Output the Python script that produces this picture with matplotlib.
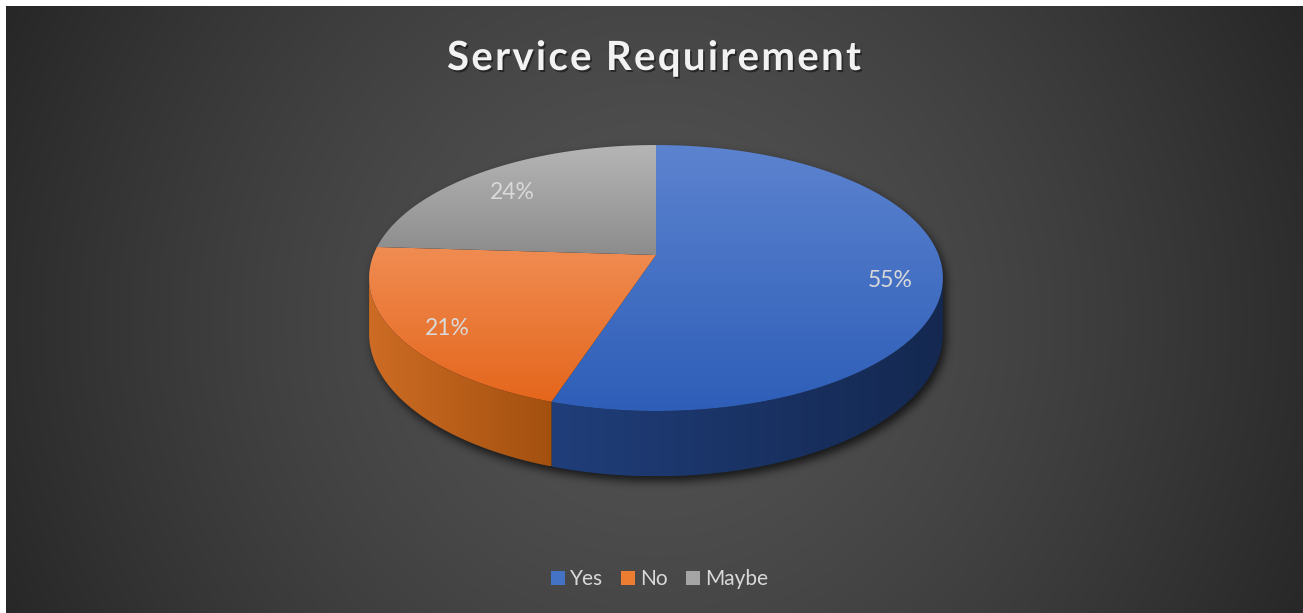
import numpy as np
import matplotlib
matplotlib.use("Agg")
import matplotlib.pyplot as plt
import matplotlib.patheffects as pe
from matplotlib.patches import Polygon, Patch
from matplotlib.path import Path
from matplotlib.colors import to_rgb
from matplotlib.font_manager import FontProperties, findfont, get_font

# data
labels = ["Yes", "No", "Maybe"]
shares = [55, 21, 24]
title = "Service Requirement"

# styles
top_colors = [("#5c83cf", "#2e5eb8"), ("#f08c52", "#e4661c"), ("#b5b5b5", "#8c8c8c")]
side_colors = [("#203e7a", "#142850"), ("#cd6c24", "#a3500f"), ("#7a7a7a", "#5a5a5a")]
legend_colors = ["#4472c4", "#ed7d31", "#a5a5a5"]
text_color = "#d9d9d9"

W, HT = 1303, 613
fig = plt.figure(figsize=(W / 100, HT / 100), dpi=100, facecolor="white")
ax = fig.add_axes([0, 0, 1, 1])
ax.axis("off")

# background radial gradient
yy, xx = np.mgrid[6:HT, 6:W] + 0.5
d = np.clip(np.hypot(xx - 655, yy - 320) / 729, 0, 1)
v = (83 - 45 * d ** 1.43) / 255
ax.imshow(np.dstack([v, v, v]), extent=(6, W, HT, 6), aspect="auto", zorder=0)

# 3d pie geometry
CX, CY = 656, 255
RX, RY = 282.6, 129
PERSP = 0.173
DEPTH = 54


def proj(phi, rho=1.0, depth=0.0):
    s, c = np.sin(phi), np.cos(phi)
    den = 1 + PERSP * rho * s
    return CX + RX * rho * c / den, CY - RY * rho * s / den + DEPTH * depth / den


def grad_fill(verts, c0, c1, vertical=True, z=2):
    poly = Polygon(verts, closed=True, facecolor="none", edgecolor="none", zorder=z)
    ax.add_patch(poly)
    x0, y0 = verts.min(0)
    x1, y1 = verts.max(0)
    t = np.linspace(0, 1, 256)
    a, b = np.array(to_rgb(c0)), np.array(to_rgb(c1))
    g = a[None, :] * (1 - t[:, None]) + b[None, :] * t[:, None]
    img = g[:, None, :] if vertical else g[None, :, :]
    im = ax.imshow(img, extent=(x0, x1, y1, y0), aspect="auto",
                   interpolation="bilinear", zorder=z)
    im.set_clip_path(poly)


fracs = np.array(shares) / sum(shares)
starts = np.radians(90 - 360 * np.concatenate([[0], np.cumsum(fracs)[:-1]]))
ends = starts - np.radians(360 * fracs)
edge = np.arcsin(PERSP)
vis_lo, vis_hi = -np.pi + edge, -edge

# drop shadow
up = np.linspace(-edge, np.pi + edge, 300)
low = np.linspace(np.pi + edge, 2 * np.pi - edge, 300)
sx1, sy1 = proj(up)
sx2, sy2 = proj(low, depth=1)
sil = Path(np.column_stack([np.r_[sx1, sx2], np.r_[sy1, sy2]]))
bx0, bx1, by0, by1 = 320, 1000, 110, 530
gy, gx = np.mgrid[by0:by1, bx0:bx1] + 0.5
mask = sil.contains_points(np.column_stack([gx.ravel() - 3, gy.ravel() - 5]))
mask = mask.reshape(gx.shape).astype(float)
sig = 4.5
r = int(3 * sig)
kern = np.exp(-0.5 * (np.arange(-r, r + 1) / sig) ** 2)
kern /= kern.sum()
for axis in (0, 1):
    out = np.zeros_like(mask)
    for i, w in enumerate(kern):
        out += w * np.roll(mask, i - r, axis=axis)
    mask = out
shadow = np.zeros(mask.shape + (4,))
shadow[..., 3] = 0.7 * mask
ax.imshow(shadow, extent=(bx0, bx1, by1, by0), aspect="auto", zorder=1)

# side walls
for i in range(len(shares)):
    a = max(ends[i], vis_lo)
    b = min(starts[i], vis_hi)
    if a >= b:
        continue
    ph = np.linspace(a, b, 200)
    tx, ty = proj(ph)
    bx, by = proj(ph[::-1], depth=1)
    verts = np.column_stack([np.r_[tx, bx], np.r_[ty, by]])
    grad_fill(verts, side_colors[i][0], side_colors[i][1], vertical=False, z=2)

# top faces
for i in range(len(shares)):
    ph = np.linspace(starts[i], ends[i], 300)
    tx, ty = proj(ph)
    verts = np.column_stack([np.r_[CX, tx], np.r_[CY, ty]])
    grad_fill(verts, top_colors[i][0], top_colors[i][1], vertical=True, z=3)

# data labels
lab_fp = FontProperties(family="Lato", size=16.5)
for i in range(len(shares)):
    mid = (starts[i] + ends[i]) / 2
    lx, ly = proj(mid, rho=0.82, depth=0.15)
    ax.text(lx, ly, f"{shares[i]}%", fontproperties=lab_fp, color=text_color,
            ha="center", va="center", zorder=5)

# title with letter spacing
tfp = FontProperties(family="Lato", weight="bold", size=29)
font = get_font(findfont(tfp))
font.set_size(29, 100)
adv = [font.load_char(ord(ch)).linearHoriAdvance / 65536 for ch in title]
spacing = (414 - sum(adv)) / (len(title) - 1)
x = 447
for ch, a in zip(title, adv):
    ax.text(x, 70, ch, fontproperties=tfp, color="#f2f2f2", ha="left", va="baseline",
            zorder=5, path_effects=[pe.SimplePatchShadow(offset=(1.2, -1.5), shadow_rgbFace="black", alpha=0.45),
                                    pe.Normal()])
    x += a + spacing

# legend
handles = [Patch(facecolor=c, edgecolor="none") for c in legend_colors]
ax.legend(handles, labels, loc="center", bbox_to_anchor=(659.5 / W, 1 - 579 / HT),
          ncol=3, frameon=False, prop=FontProperties(family="Lato", size=15),
          labelcolor=text_color, handlelength=0.67, handleheight=0.67,
          handletextpad=0.25, columnspacing=0.87, borderpad=0)

ax.set_xlim(0, W)
ax.set_ylim(HT, 0)
fig.savefig("out.png", dpi=100, facecolor="white")
